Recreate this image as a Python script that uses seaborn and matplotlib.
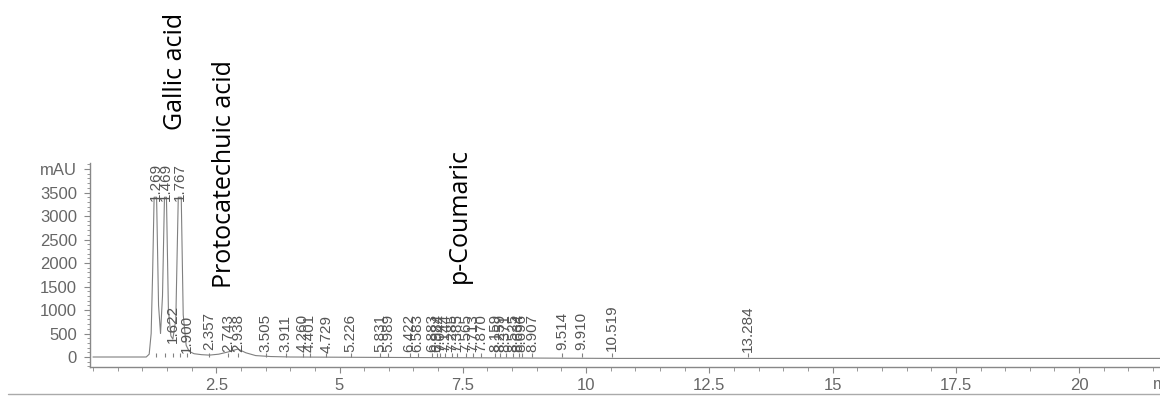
import matplotlib
matplotlib.use("Agg")
import matplotlib.pyplot as plt
from matplotlib.ticker import MultipleLocator, FixedLocator
from matplotlib.lines import Line2D
import seaborn as sns
import pandas as pd

# ---- data ----
trace_time = [0.0, 1.08, 1.14, 1.18, 1.21, 1.24, 1.29, 1.33, 1.37, 1.41, 1.45,
              1.49, 1.53, 1.58, 1.62, 1.68, 1.73, 1.79, 1.83, 1.89, 1.95, 2.05,
              2.20, 2.36, 2.55, 2.75, 2.94, 3.10, 3.30, 3.60, 4.00, 10.60, 21.70]
trace_mau = [0, 0, 60, 500, 1800, 3400, 3400, 1100, 500, 1300, 3400,
             3400, 1000, 450, 380, 800, 3400, 3400, 900, 250, 120, 70,
             50, 40, 60, 110, 170, 90, 30, 10, 0, -30, -30]

peak_rt = [1.269, 1.469, 1.767, 1.622, 1.900, 2.357, 2.743, 2.938, 3.505, 3.911,
           4.260, 4.401, 4.729, 5.226, 5.831, 5.989, 6.422, 6.583, 6.883, 6.984,
           7.044, 7.144, 7.285, 7.385, 7.565, 7.713, 7.870, 8.159, 8.259, 8.371,
           8.525, 8.634, 8.696, 8.907, 9.514, 9.910, 10.519, 13.284]
peak_label_base = [3330, 3330, 3330, 300, 90, 150, 110, 110, 110, 110,
                   110, 110, 90, 110, 110, 110, 110, 110, 110, 110,
                   110, 110, 110, 110, 110, 110, 110, 110, 110, 110,
                   110, 110, 110, 110, 150, 150, 120, 110]
marker_top = [80] * len(peak_rt)

compounds = ["Gallic acid", "Protocatechuic acid", "p-Coumaric"]
compound_rt = [1.68, 2.66, 7.44]
compound_base = [4830, 1470, 1575]

x_major = [2.5, 5, 7.5, 10, 12.5, 15, 17.5, 20]
x_labels = ["2.5", "5", "7.5", "10", "12.5", "15", "17.5", "20"]
y_major = [0, 500, 1000, 1500, 2000, 2500, 3000, 3500, 4000]
y_labels = ["0", "500", "1000", "1500", "2000", "2500", "3000", "3500", "mAU"]

# ---- plot ----
sns.set_style("ticks")
plt.rcParams['font.family'] = ['Liberation Sans', 'DejaVu Sans']

fig = plt.figure(figsize=(11.6, 3.96), dpi=100)
ax = fig.add_axes([0.0776, 0.0732, 0.9224, 0.515])

df = pd.DataFrame({"time": trace_time, "mAU": trace_mau})
sns.lineplot(data=df, x="time", y="mAU", ax=ax, color="#808080",
             linewidth=0.8, estimator=None, sort=False)

ax.vlines(peak_rt, 0, marker_top, color="#808080", linewidth=0.8)

for rt, base in zip(peak_rt, peak_label_base):
    ax.text(rt, base, f"{rt:.3f}", rotation=90, ha="center", va="bottom",
            fontsize=11, color="#555555", clip_on=False)

for name, rt, base in zip(compounds, compound_rt, compound_base):
    ax.text(rt, base, name, rotation=90, ha="center", va="bottom",
            fontsize=18, color="black", family=["Open Sans", "DejaVu Sans"],
            clip_on=False)

ax.set_xlim(-0.06, 21.64)
ax.set_ylim(-213, 4127)
ax.xaxis.set_major_locator(FixedLocator(x_major))
ax.set_xticks(x_major)
ax.set_xticklabels(x_labels)
ax.xaxis.set_minor_locator(MultipleLocator(0.5))
ax.set_yticks(y_major)
ax.set_yticklabels(y_labels)
ax.yaxis.set_minor_locator(MultipleLocator(100))

ax.set_xlabel("")
ax.set_ylabel("")
for s in ["top", "right"]:
    ax.spines[s].set_visible(False)
for s in ["left", "bottom"]:
    ax.spines[s].set_color("#888888")
    ax.spines[s].set_linewidth(1.0)

ax.tick_params(axis="both", which="both", direction="out", color="#888888",
               labelcolor="#666666", labelsize=12)
ax.tick_params(axis="x", which="major", length=4.5, pad=3.5)
ax.tick_params(axis="x", which="minor", length=3)
ax.tick_params(axis="y", which="major", length=4.5, pad=5)
ax.tick_params(axis="y", which="minor", length=2.5)

ax.text(21.5, -0.088, "min", transform=ax.get_xaxis_transform(), ha="left",
        va="center", fontsize=12, color="#666666", clip_on=False)

fig.add_artist(Line2D([0.007, 1.0], [0.004, 0.004], transform=fig.transFigure,
                      color="#aaaaaa", linewidth=1.0))

fig.savefig("out.png", dpi=100)
